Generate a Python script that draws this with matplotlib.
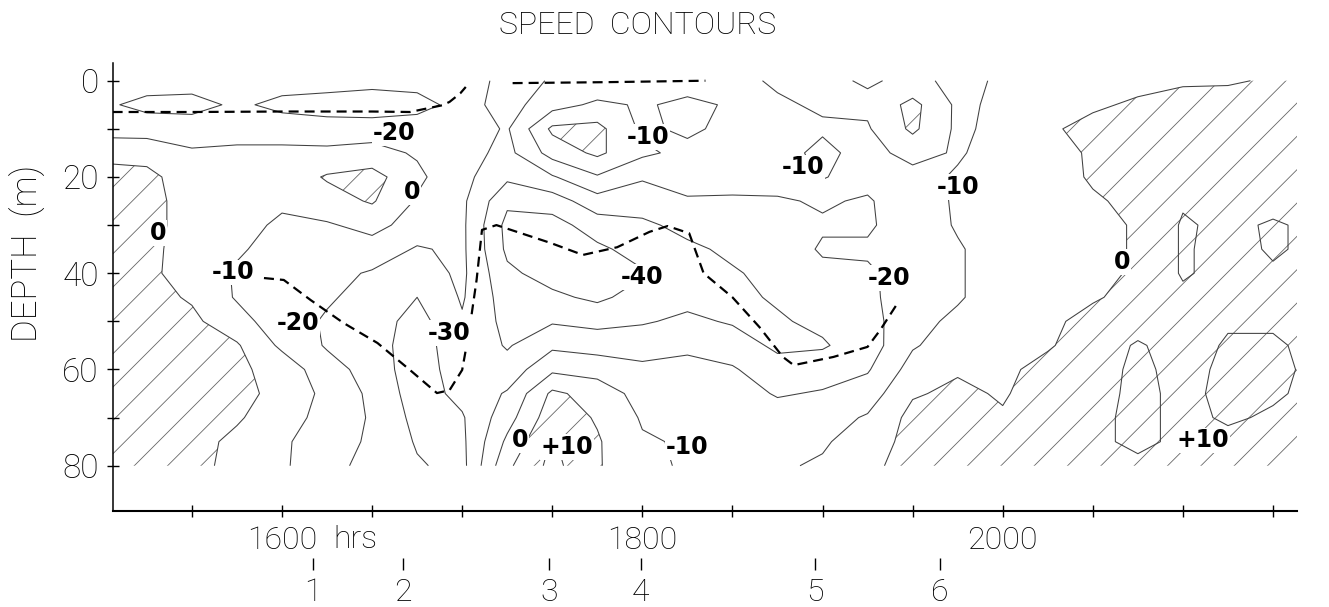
import matplotlib
matplotlib.use('Agg')
import matplotlib.pyplot as plt
import numpy as np

plt.rcParams['font.family'] = ['Roboto', 'DejaVu Sans']
plt.rcParams['font.weight'] = 'light'
plt.rcParams['hatch.color'] = '#666666'
plt.rcParams['hatch.linewidth'] = 0.6

# time in decimal hours, depth in m
times = [15.0, 15.25, 15.5, 15.75, 16.0, 16.25, 16.5, 16.75, 17.0, 17.25,
         17.5, 17.75, 18.0, 18.25, 18.5, 18.75, 19.0, 19.25, 19.5, 19.75,
         20.0, 20.25, 20.5, 20.75, 21.0, 21.25, 21.5, 21.75]
depths = [0, 5, 10, 15, 20, 25, 30, 35, 40, 45, 50, 55, 60, 65, 70, 75, 80]

# speed, one list per time column (depth 0 -> 80)
speed_cols = [
    [-15, -18, -14, -3, 4, 6, 6, 6, 6, 7, 7, 6, 6, 5, 4, 3, 3],
    [-15, -23, -14, -4, 3, 4, 4, 3, 2, 3, 5, 6, 6, 5, 4, 3, 3],
    [-15, -24, -14, -9, -6, -5, -5, -5, -4, -1, 2, 4, 5, 5, 4, 3, 2],
    [-15, -18, -14, -8, -6, -6, -8, -9, -11, -11, -6, 1, 2, 2, 1, -2, -2],
    [-15, -23, -14, -8, -6, -9, -11, -13, -15, -16, -16, -12, -4, -2, -5, -8, -8],
    [-15, -25, -15, -8, 1, -4, -11, -14, -17, -19, -21, -21, -16, -13, -14, -17, -19],
    [-16, -27, -14, -7, 4, 1, -7, -14, -21, -23, -25, -25, -24, -22, -21, -21, -21],
    [-16, -24, -14, -11, -8, -11, -14, -21, -25, -30, -34, -36, -36, -35, -33, -31, -29],
    [-12, -16, -15, -16, -17, -18, -18, -18, -18, -19, -21, -22, -24, -27, -31, -32, -33],
    [-25, -24, -21, -23, -28, -38, -43, -42, -38, -35, -33, -31, -26, -19, -14, -8, -2],
    [-19, -14, 2, -6, -21, -35, -44, -46, -44, -38, -31, -22, -12, 2, 6, 11, 13],
    [-18, -8, 3, 2, -11, -24, -35, -42, -44, -42, -33, -24, -14, -4, -1, 1, 1],
    [-18, -11, -12, -8, -19, -25, -32, -36, -41, -36, -31, -24, -18, -14, -11, -9, -8],
    [-14, -8, -8, -13, -16, -21, -27, -32, -35, -33, -28, -22, -17, -13, -11, -11, -11],
    [-12, -11, -13, -14, -17, -21, -24, -28, -31, -32, -31, -25, -19, -15, -13, -12, -11],
    [-9, -11, -12, -13, -16, -21, -22, -25, -27, -29, -31, -32, -26, -21, -15, -12, -11],
    [-8, -9, -11, -8, -9, -19, -21, -19, -22, -25, -28, -31, -25, -19, -14, -11, -9],
    [-11, -8, -11, -13, -17, -21, -21, -19, -21, -22, -24, -25, -21, -15, -9, -6, -3],
    [-8, 3, 2, -7, -13, -14, -16, -18, -17, -15, -13, -11, -6, -1, 3, 4, 5],
    [-12, -12, -12, -11, -9, -9, -9, -11, -11, -11, -8, -5, -1, 2, 4, 5, 6],
    [-9, -8, -7, -6, -5, -5, -5, -5, -5, -5, -4, -3, -2, -1, 1, 3, 5],
    [-4, -4, -1, -3, -4, -4, -4, -4, -4, -3, -2, -1, 3, 5, 6, 6, 6],
    [-3, -1, 2, 1, 1, -1, -3, -3, -2, -1, 3, 5, 6, 7, 8, 9, 9],
    [-2, 1, 4, 5, 4, 2, 1, 1, 1, 3, 6, 11, 12, 12, 12, 11, 9],
    [-1, 3, 5, 6, 7, 9, 11, 11, 11, 8, 7, 6, 7, 8, 8, 9, 8],
    [-1, 4, 6, 7, 7, 8, 8, 7, 7, 8, 9, 11, 12, 12, 11, 8, 7],
    [1, 5, 6, 7, 7, 7, 11, 11, 9, 8, 9, 11, 12, 11, 9, 8, 7],
    [1, 5, 6, 7, 7, 7, 8, 8, 8, 8, 8, 8, 8, 8, 8, 7, 7],
]
levels = [-40, -30, -20, -10, 0, 10]

# dashed boundary lines
upper_t = [15.06, 15.5, 16.0, 16.5, 16.71, 16.89, 16.93, 16.99, 17.02]
upper_d = [6.5, 6.5, 6.4, 6.4, 6.5, 5.1, 4.4, 2.6, 1.3]
surf_t = [17.28, 17.8, 18.35]
surf_d = [0.5, 0.3, 0.0]
core_t = [15.9, 16.01, 16.16, 16.34, 16.53, 16.71, 16.86, 16.93, 17.0, 17.04,
          17.08, 17.11, 17.19, 17.49, 17.67, 17.86, 18.04, 18.14, 18.26, 18.34,
          18.5, 18.65, 18.78, 18.84, 19.06, 19.25, 19.32, 19.41]
core_d = [41.0, 41.4, 45.6, 50.3, 54.5, 60.1, 64.9, 64.3, 60.1, 51.8,
          41.4, 31.0, 30.0, 33.7, 36.2, 34.6, 31.4, 30.2, 31.7, 40.0,
          45.0, 51.2, 57.4, 59.1, 57.4, 55.3, 51.8, 46.6]

# contour value labels
lab_t = [16.62, 16.72, 18.03, 18.89, 19.75, 15.31, 15.73, 16.09, 16.93, 18.0,
         19.37, 20.66, 17.32, 17.58, 18.25, 21.11]
lab_d = [10.9, 23.1, 11.7, 18.0, 22.1, 31.6, 39.8, 50.3, 52.4, 40.8,
         41.0, 37.7, 74.7, 76.1, 76.1, 74.7]
lab_txt = ['-20', '0', '-10', '-10', '-10', '0', '-10', '-20', '-30', '-40',
           '-20', '0', '0', '+10', '-10', '+10']

# stations along the track
station_t = [16.17, 16.67, 17.48, 17.99, 18.96, 19.65]
station_lab = ['1', '2', '3', '4', '5', '6']

fig = plt.figure(figsize=(13.29, 6.07), dpi=100, facecolor='white')
ax = fig.add_axes([0.0848, 0.1582, 0.8911, 0.738])

T, D = np.meshgrid(times, depths)
Z = np.array(speed_cols).T

ax.contourf(T, D, Z, levels=[0, 100], colors='none', hatches=['/'])
ax.contour(T, D, Z, levels=levels, colors='#404040', linewidths=0.75,
           negative_linestyles='solid')

dash = dict(color='black', lw=1.6, dashes=(4.5, 2.7), zorder=3)
ax.plot(upper_t, upper_d, **dash)
ax.plot(surf_t, surf_d, **dash)
ax.plot(core_t, core_d, **dash)

for t, d, s in zip(lab_t, lab_d, lab_txt):
    ax.text(t, d, s, ha='center', va='center', fontsize=17, fontweight='bold',
            family='DejaVu Sans', zorder=4,
            bbox=dict(facecolor='white', edgecolor='none', pad=0.5))

ax.set_xlim(15.0605, 21.633)
ax.set_ylim(89.4, -3.68)

for side in ['top', 'right']:
    ax.spines[side].set_visible(False)
ax.spines['left'].set_linewidth(1.1)
ax.spines['bottom'].set_linewidth(1.5)

xt = np.arange(15.5, 21.51, 0.5)
ax.set_xticks(xt)
ax.set_xticklabels(['1600' if abs(v - 16) < 1e-6 else '1800' if abs(v - 18) < 1e-6
                    else '2000' if abs(v - 20) < 1e-6 else '' for v in xt])
ax.tick_params(axis='x', direction='inout', length=9, width=1, pad=6, labelsize=23)

ax.set_yticks([0, 20, 40, 60, 80])
ax.set_yticks([10, 30, 50, 70], minor=True)
ax.tick_params(axis='y', which='both', direction='inout', length=8, width=1,
               pad=6, labelsize=24)

sec = ax.secondary_xaxis(-0.105)
sec.set_xticks(station_t)
sec.set_xticklabels(station_lab)
sec.tick_params(direction='out', length=8.6, width=1, pad=6, labelsize=23)
for side in ['top', 'bottom']:
    sec.spines[side].set_visible(False)

fig.text(333 / 1329, 1 - 548 / 607, 'hrs', fontsize=23, ha='left', va='baseline')
fig.text(638 / 1329, 1 - 26 / 607, 'SPEED  CONTOURS', fontsize=23,
         ha='center', va='center')
fig.text(28 / 1329, 1 - 253 / 607, 'DEPTH  (m)', fontsize=25, rotation=90,
         ha='center', va='center')

fig.savefig('out.png', dpi=100, facecolor='white')
